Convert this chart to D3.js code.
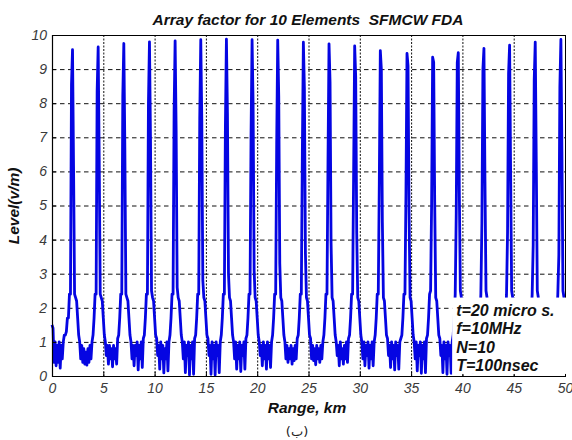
<!DOCTYPE html>
<html>
<head>
<meta charset="utf-8">
<script src="https://cdn.jsdelivr.net/npm/d3@7"></script>
<style>
  html, body { margin: 0; padding: 0; background: #fff; }
  svg { display: block; }
  text { white-space: pre; }
</style>
</head>
<body>
<svg id="chart" width="572" height="440"></svg>
<script>
// ---------------- data ----------------
const titleText = "Array factor for 10 Elements  SFMCW FDA";
const xLabelText = "Range, km";
const yLabelText = "Level(v/m)";
const captionText = "(ب)";
const noteLines = ["t=20 micro s.", "f=10MHz", "N=10", "T=100nsec"];

const xTicks = [0, 5, 10, 15, 20, 25, 30, 35, 40, 45, 50];
const yTicks = [0, 1, 2, 3, 4, 5, 6, 7, 8, 9, 10];
const xDomain = [0, 50];
const yDomain = [0, 10];

// samples every 0.1 km starting at 0 km
const rangeStart = 0;
const rangeStep = 0.1;
const level = [
  // 0.0 - 1.9 km
  1.5,1.4,0.4,1.0,0.3,0.9,0.4,1.0,0.23,0.9,0.5,1.0,1.2,1.2,1.3,1.7,1.7,2.4,2.4,8.55,
  // peak 2.0
  9.57,
  6.15,2.4,2.3,2.2,1.7,1.2, 1.0,0.5,0.9,0.4,0.8,0.35,0.7,0.32,0.8,0.4,0.9,0.5,1.0, 1.2,1.7,2.4,2.4,8.35,
  // peak 4.5
  9.65,
  6.4,2.4,2.3,2.2,1.7,1.2, 1.0,0.6,0.9,0.35,0.9,0.5,0.8,0.27,0.9,0.5,0.8,0.35,1.1, 1.2,1.7,2.4,2.4,8.2,
  // peak 7.0
  9.75,
  6.7,2.4,2.3,2.2,1.7,1.2, 1.0,0.5,0.9,0.3,0.9,0.6,1.0,0.18,0.9,0.5,1.0,0.25,1.1, 1.2,1.7,2.4,2.4,8.0,
  // peak 9.5
  9.8,
  6.95,2.5,2.3,2.2,1.7,1.2, 1.1,0.6,0.9,0.2,1.0,0.5,0.9,0.09,0.8,0.5,1.0,0.15,1.0, 1.2,1.7,2.4,2.4,7.75,
  // peak 12.0
  9.83,
  7.2,2.6,2.3,2.2,1.7,1.2, 1.0,0.5,1.0,0.1,0.9,0.6,1.0,0.03,0.9,0.5,1.0,0.05,1.1, 1.2,1.7,2.4,2.4,7.55,
  // peak 14.5
  9.86,
  7.5,2.8,2.3,2.2,1.7,1.2, 1.1,0.6,0.9,0.05,1.0,0.5,0.9,0.03,1.0,0.6,0.9,0.1,1.0, 1.2,1.7,2.4,2.4,7.3,
  // peak 17.0
  9.88,
  7.7,3.0,2.3,2.2,1.7,1.2, 1.0,0.5,1.0,0.2,0.9,0.5,1.0,0.13,0.9,0.6,1.0,0.2,1.1, 1.2,1.7,2.4,2.4,7.05,
  // peak 19.5
  9.86,
  8.0,3.1,2.3,2.2,1.7,1.2, 1.0,0.6,0.9,0.3,1.0,0.5,0.9,0.2,1.0,0.5,0.9,0.25,1.0, 1.2,1.7,2.4,2.4,6.8,
  // peak 22.0
  9.85,
  8.2,3.3,2.3,2.2,1.7,1.2, 1.0,0.5,0.9,0.4,0.8,0.5,0.9,0.35,0.8,0.45,0.9,0.5,1.1, 1.2,1.7,2.4,2.4,6.54,
  // peak 24.5
  9.79,
  8.43,3.6,2.3,2.2,1.7,1.2, 1.1,0.5,0.9,0.45,0.8,0.33,0.9,0.5,0.8,0.4,0.9,0.5,1.0, 1.2,1.7,2.4,2.4,6.28,
  // peak 27.0
  9.74,
  8.63,3.9,2.3,2.2,1.7,1.2, 1.0,0.6,0.9,0.3,1.0,0.5,0.8,0.35,0.9,0.5,1.0,0.4,1.1, 1.2,1.7,2.4,2.4,5.99,
  // peak 29.5
  9.68,
  8.78,4.19,2.3,2.2,1.7,1.2, 1.0,0.5,1.0,0.3,0.9,0.6,1.0,0.23,0.9,0.5,1.0,0.3,1.0, 1.2,1.7,2.4,2.4,5.65,
  // peak 32.0
  9.54,
  9.0,4.5,2.3,2.2,1.7,1.2, 1.1,0.6,0.9,0.25,1.0,0.5,0.9,0.18,1.0,0.6,0.9,0.2,1.0,1.1, 1.2,1.7,2.4,2.4,5.36,
  // peak 34.6
  9.46,
  9.1,4.79,2.3,2.2,1.7,1.2, 1.0,0.5,1.0,0.15,0.9,0.6,1.0,0.08,0.9,0.5,1.0,0.1,1.1, 1.2,1.7,2.4,2.5,5.06,
  // peak 37.1
  9.35,
  9.2,5.1,2.3,2.2,1.7,1.2, 1.1,0.6,0.9,0.1,1.0,0.5,0.9,0.05,1.0,0.6,0.9,0.08,1.0, 1.2,1.7,2.4,4.78,9.2,
  // peak 39.6
  9.48,
  5.4,2.5,2.3,2.2,1.7,1.2, 1.0,0.5,0.9,0.2,1.0,0.6,0.9,0.1,0.9,0.5,1.0,0.2,1.1, 1.2,1.7,2.4,4.48,9.0,
  // peak 42.1
  9.61,
  5.7,2.5,2.3,2.2,1.7,1.2, 1.0,0.6,0.9,0.3,0.9,0.5,1.0,0.2,0.9,0.5,0.9,0.3,1.0, 1.2,1.7,2.4,4.2,8.87,
  // peak 44.6
  9.7,
  6.0,2.5,2.3,2.2,1.7,1.2, 1.1,0.5,0.9,0.35,0.8,0.5,0.9,0.3,0.9,0.5,1.0,0.4,1.0, 1.2,1.7,2.4,3.84,8.68,
  // peak 47.1
  9.79,
  6.28,2.5,2.3,2.2,1.7,1.2, 1.0,0.5,0.9,0.4,0.8,0.35,0.9,0.5,0.8,0.4,0.9,0.5,1.1, 1.2,1.7,2.4,3.55,8.48,
  // peak 49.6
  9.87,
  6.58,2.5,2.3,2.2
];

// ---------------- drawing ----------------
const svg = d3.select("#chart");
const W = 572, H = 440;
const plot = { left: 52, right: 565, top: 35, bottom: 376 };
const fontFamily = "'Liberation Sans', Arial, Helvetica, sans-serif";

const x = d3.scaleLinear().domain(xDomain).range([plot.left, plot.right]);
const y = d3.scaleLinear().domain(yDomain).range([plot.bottom, plot.top]);

svg.append("rect").attr("width", W).attr("height", H).attr("fill", "#fff");

// grid
const grid = svg.append("g").attr("class", "grid");
grid.selectAll("line.h").data(yTicks.filter(v => v > yDomain[0] && v < yDomain[1]))
  .enter().append("line").attr("class", "h")
  .attr("x1", plot.left).attr("x2", plot.right)
  .attr("y1", d => y(d) + 0.5).attr("y2", d => y(d) + 0.5)
  .attr("stroke", "#111").attr("stroke-width", 1)
  .attr("stroke-dasharray", "4.5,3.5");
grid.selectAll("line.v").data(xTicks.filter(v => v > xDomain[0] && v < xDomain[1]))
  .enter().append("line").attr("class", "v")
  .attr("x1", d => x(d) + 0.5).attr("x2", d => x(d) + 0.5)
  .attr("y1", plot.top).attr("y2", plot.bottom)
  .attr("stroke", "#111").attr("stroke-width", 1)
  .attr("stroke-dasharray", "2,1.5");

// data line
const pts = level.map((v, i) => [rangeStart + i * rangeStep, v]);
const line = d3.line().x(d => x(d[0])).y(d => y(d[1]));
svg.append("path")
  .datum(pts)
  .attr("d", line)
  .attr("fill", "none")
  .attr("stroke", "#0505e2")
  .attr("stroke-width", 2.8)
  .attr("stroke-linejoin", "round");

// axes (ticks inward)
const xAxis = d3.axisBottom(x).tickValues(xTicks).tickSizeInner(-4).tickSizeOuter(0).tickPadding(6);
const yAxis = d3.axisLeft(y).tickValues(yTicks).tickSizeInner(-4).tickSizeOuter(0).tickPadding(5);
const gx = svg.append("g").attr("transform", `translate(0,${plot.bottom})`).call(xAxis);
const gy = svg.append("g").attr("transform", `translate(${plot.left},0)`).call(yAxis);
[gx, gy].forEach(g => {
  g.select(".domain").remove();
  g.selectAll(".tick line").attr("stroke", "#000");
  g.selectAll(".tick text")
    .attr("font-family", fontFamily)
    .attr("font-size", 14)
    .attr("font-style", "italic")
    .attr("fill", "#3a3a3a");
});
gx.selectAll(".tick text").attr("dy", "0.75em");

// frame: right edge (under the note box)
svg.append("line")
  .attr("x1", plot.right + 0.5).attr("x2", plot.right + 0.5)
  .attr("y1", plot.top).attr("y2", plot.bottom)
  .attr("stroke", "#000").attr("stroke-width", 1);

// note box (white, covers the plot under it)
const noteBox = { x0: 39.0, x1: 50.2, y0: 2.3, y1: 0.06 };
svg.append("rect")
  .attr("x", x(noteBox.x0)).attr("y", y(noteBox.y0))
  .attr("width", x(noteBox.x1) - x(noteBox.x0))
  .attr("height", y(noteBox.y1) - y(noteBox.y0))
  .attr("fill", "#fff");
svg.append("g").selectAll("text").data(noteLines).enter().append("text")
  .attr("x", x(39.4))
  .attr("y", (d, i) => 316 + i * 18.3)
  .attr("font-family", fontFamily)
  .attr("font-size", 16)
  .attr("font-weight", "bold")
  .attr("font-style", "italic")
  .attr("fill", "#111")
  .text(d => d);

// frame: left, top, bottom
svg.append("path")
  .attr("d", `M${plot.right + 0.5},${plot.top + 0.5}H${plot.left + 0.5}V${plot.bottom + 0.5}H${plot.right + 1}`)
  .attr("fill", "none").attr("stroke", "#000").attr("stroke-width", 1.2);

// title & labels
svg.append("text")
  .attr("x", 308).attr("y", 25)
  .attr("text-anchor", "middle")
  .attr("font-family", fontFamily).attr("font-size", 15.5)
  .attr("font-weight", "bold").attr("font-style", "italic")
  .attr("fill", "#111")
  .text(titleText);

svg.append("text")
  .attr("x", 307).attr("y", 413)
  .attr("text-anchor", "middle")
  .attr("font-family", fontFamily).attr("font-size", 15.5)
  .attr("font-weight", "bold").attr("font-style", "italic")
  .attr("fill", "#111")
  .text(xLabelText);

svg.append("text")
  .attr("transform", "translate(19,206) rotate(-90)")
  .attr("text-anchor", "middle")
  .attr("font-family", fontFamily).attr("font-size", 15.5)
  .attr("font-weight", "bold").attr("font-style", "italic")
  .attr("fill", "#111")
  .text(yLabelText);

svg.append("text")
  .attr("x", 297).attr("y", 436)
  .attr("text-anchor", "middle")
  .attr("font-family", "'DejaVu Sans', sans-serif").attr("font-size", 13)
  .attr("fill", "#222")
  .text(captionText);
</script>
</body>
</html>
